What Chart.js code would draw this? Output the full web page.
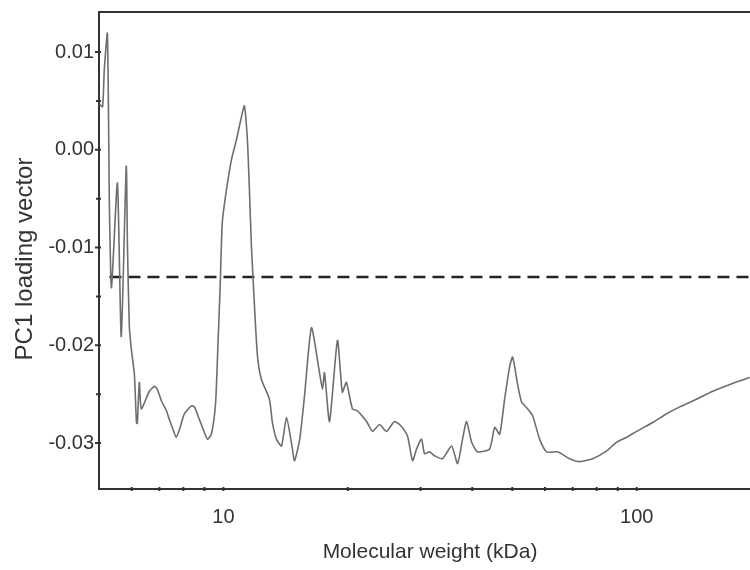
<!DOCTYPE html>
<html>
<head>
<meta charset="utf-8">
<script src="https://cdn.jsdelivr.net/npm/chart.js@4/dist/chart.umd.min.js"></script>
<style>
    html, body { margin: 0; padding: 0; background: #fff; }
    canvas { display: block; }
</style>
</head>
<body>
<canvas id="pcChart" width="750" height="570"></canvas>
<script>
// molecular weight (kDa) and PC1 loading
const mw = [
    5.01, 5.10, 5.15, 5.24, 5.30, 5.36, 5.54, 5.66, 5.82, 5.86,
    5.92, 5.99, 6.09, 6.16, 6.19, 6.26, 6.33, 6.62, 6.81, 6.92,
    7.08, 7.28, 7.40, 7.52, 7.69, 7.83, 8.05, 8.37, 8.51, 8.75,
    8.99, 9.15, 9.35, 9.57, 9.70, 9.82, 9.94, 10.17, 10.46, 10.75,
    11.06, 11.24, 11.43, 11.56, 11.69, 11.89, 12.09, 12.36, 12.92, 13.14,
    13.44, 13.82, 14.21, 14.65, 14.86, 15.30, 15.71, 16.33, 17.08, 17.37,
    17.56, 18.06, 18.88, 19.40, 19.84, 20.52, 21.10, 22.20, 22.95, 23.87,
    24.81, 25.94, 26.98, 27.90, 28.69, 29.34, 30.16, 30.67, 31.54, 32.43,
    33.91, 35.65, 36.86, 37.90, 38.76, 39.86, 41.21, 44.07, 45.32, 46.60,
    47.91, 49.26, 50.10, 51.51, 52.66, 54.46, 56.00, 58.23, 60.55, 64.38,
    68.84, 72.78, 78.26, 84.62, 89.47, 94.58, 100.0, 109.3, 118.2, 127.1,
    139.8, 152.8, 168.0, 187.7
];
const loading = [
    0.0047, 0.0044, 0.0082, 0.0119, -0.0061, -0.0141, -0.0034, -0.0191, -0.0017, -0.0100,
    -0.0180, -0.0205, -0.0230, -0.0279, -0.0280, -0.0238, -0.0265, -0.0247, -0.0242, -0.0245,
    -0.0257, -0.0267, -0.0276, -0.0284, -0.0294, -0.0286, -0.0270, -0.0262, -0.0263, -0.0276,
    -0.0289, -0.0296, -0.0291, -0.0260, -0.0200, -0.0140, -0.0074, -0.0041, -0.0010, 0.0010,
    0.0034, 0.0045, 0.0010, -0.0041, -0.0099, -0.0160, -0.0211, -0.0235, -0.0255, -0.0279,
    -0.0296, -0.0303, -0.0274, -0.0303, -0.0318, -0.0296, -0.0252, -0.0182, -0.0228, -0.0245,
    -0.0228, -0.0278, -0.0195, -0.0248, -0.0238, -0.0265, -0.0267, -0.0278, -0.0288, -0.0281,
    -0.0288, -0.0278, -0.0283, -0.0293, -0.0318, -0.0306, -0.0296, -0.0311, -0.0309, -0.0313,
    -0.0316, -0.0303, -0.0321, -0.0296, -0.0278, -0.0299, -0.0309, -0.0306, -0.0284, -0.0291,
    -0.0255, -0.0222, -0.0212, -0.0240, -0.0258, -0.0265, -0.0272, -0.0296, -0.0309, -0.0309,
    -0.0316, -0.0319, -0.0316, -0.0308, -0.0299, -0.0294, -0.0288, -0.0279, -0.0270, -0.0263,
    -0.0255, -0.0247, -0.0240, -0.0233
];

// dashed reference level
const thresholdLevel = -0.013;
const thresholdFrom = 5.3;
const thresholdTo = 188;

// axis ranges and ticks
const xMin = 5, xMax = 188;
const xTicks = [6, 7, 8, 9, 10, 20, 30, 40, 50, 60, 70, 80, 90, 100];
const xLabels = [10, 100];
const yMin = -0.0347, yMax = 0.0141;
const yTicks = [-0.03, -0.025, -0.02, -0.015, -0.01, -0.005, 0, 0.005, 0.01];
const yLabels = [-0.03, -0.02, -0.01, 0, 0.01];
const xTitle = "Molecular weight (kDa)";
const yTitle = "PC1 loading vector";

const ink = "#333";
const family = "'Liberation Sans', Arial, sans-serif";

const isLabel = (list, v) => list.some(l => Math.abs(l - v) < 1e-9);

// frame top line, small crossing tick marks and the two axis titles
const frameAndTitles = {
    id: "frameAndTitles",
    afterDraw(chart) {
        const { ctx, chartArea, scales } = chart;
        ctx.save();
        ctx.strokeStyle = ink;
        ctx.lineWidth = 2;
        ctx.beginPath();
        ctx.moveTo(chartArea.left, chartArea.top);
        ctx.lineTo(chartArea.right, chartArea.top);
        ctx.stroke();

        ctx.lineWidth = 2;
        ctx.beginPath();
        yTicks.forEach(v => {
            const y = scales.y.getPixelForValue(v);
            const out = isLabel(yLabels, v) ? 4 : 3;
            ctx.moveTo(chartArea.left - out, y);
            ctx.lineTo(chartArea.left + 2, y);
        });
        xTicks.forEach(v => {
            const x = scales.x.getPixelForValue(v);
            ctx.moveTo(x, chartArea.bottom - 2);
            ctx.lineTo(x, chartArea.bottom + 2);
        });
        ctx.stroke();

        ctx.fillStyle = ink;
        ctx.textAlign = "center";
        ctx.textBaseline = "middle";
        ctx.font = "21px " + family;
        ctx.fillText(xTitle, 430, 552);

        ctx.translate(25, 259);
        ctx.rotate(-Math.PI / 2);
        ctx.font = "24px " + family;
        ctx.fillText(yTitle, 0, 0);
        ctx.restore();
    }
};

new Chart(document.getElementById("pcChart"), {
    type: "line",
    data: {
        datasets: [
            {
                data: mw.map((x, i) => ({ x: x, y: loading[i] })),
                borderColor: "#6e6e6e",
                borderWidth: 1.6,
                pointRadius: 0,
                tension: 0.2,
                fill: false
            },
            {
                data: [{ x: thresholdFrom, y: thresholdLevel }, { x: thresholdTo, y: thresholdLevel }],
                borderColor: "#222",
                borderWidth: 2.5,
                borderDash: [12, 7],
                pointRadius: 0,
                fill: false
            }
        ]
    },
    options: {
        responsive: false,
        animation: false,
        layout: { padding: { top: 12, right: 0, left: 0, bottom: 0 } },
        plugins: {
            legend: { display: false },
            tooltip: { enabled: false }
        },
        scales: {
            x: {
                type: "logarithmic",
                min: xMin,
                max: xMax,
                afterBuildTicks: (scale) => { scale.ticks = xTicks.map(v => ({ value: v })); },
                afterFit: (scale) => {
                    scale.height = 81;
                    scale.paddingLeft = 0;
                    scale.paddingRight = 0;
                },
                border: { color: ink, width: 2 },
                grid: { drawOnChartArea: false, drawTicks: false },
                ticks: {
                    autoSkip: false,
                    maxRotation: 0,
                    padding: 16,
                    color: ink,
                    font: { family: family, size: 20 },
                    callback: (v) => isLabel(xLabels, v) ? String(v) : ""
                }
            },
            y: {
                min: yMin,
                max: yMax,
                afterBuildTicks: (scale) => { scale.ticks = yTicks.map(v => ({ value: v })); },
                afterFit: (scale) => {
                    scale.width = 99;
                    scale.paddingTop = 0;
                    scale.paddingBottom = 0;
                },
                border: { color: ink, width: 2 },
                grid: { drawOnChartArea: false, drawTicks: false },
                ticks: {
                    autoSkip: false,
                    padding: 5,
                    color: ink,
                    font: { family: family, size: 20 },
                    callback: (v) => isLabel(yLabels, v) ? v.toFixed(2) : ""
                }
            }
        }
    },
    plugins: [frameAndTitles]
});
</script>
</body>
</html>
